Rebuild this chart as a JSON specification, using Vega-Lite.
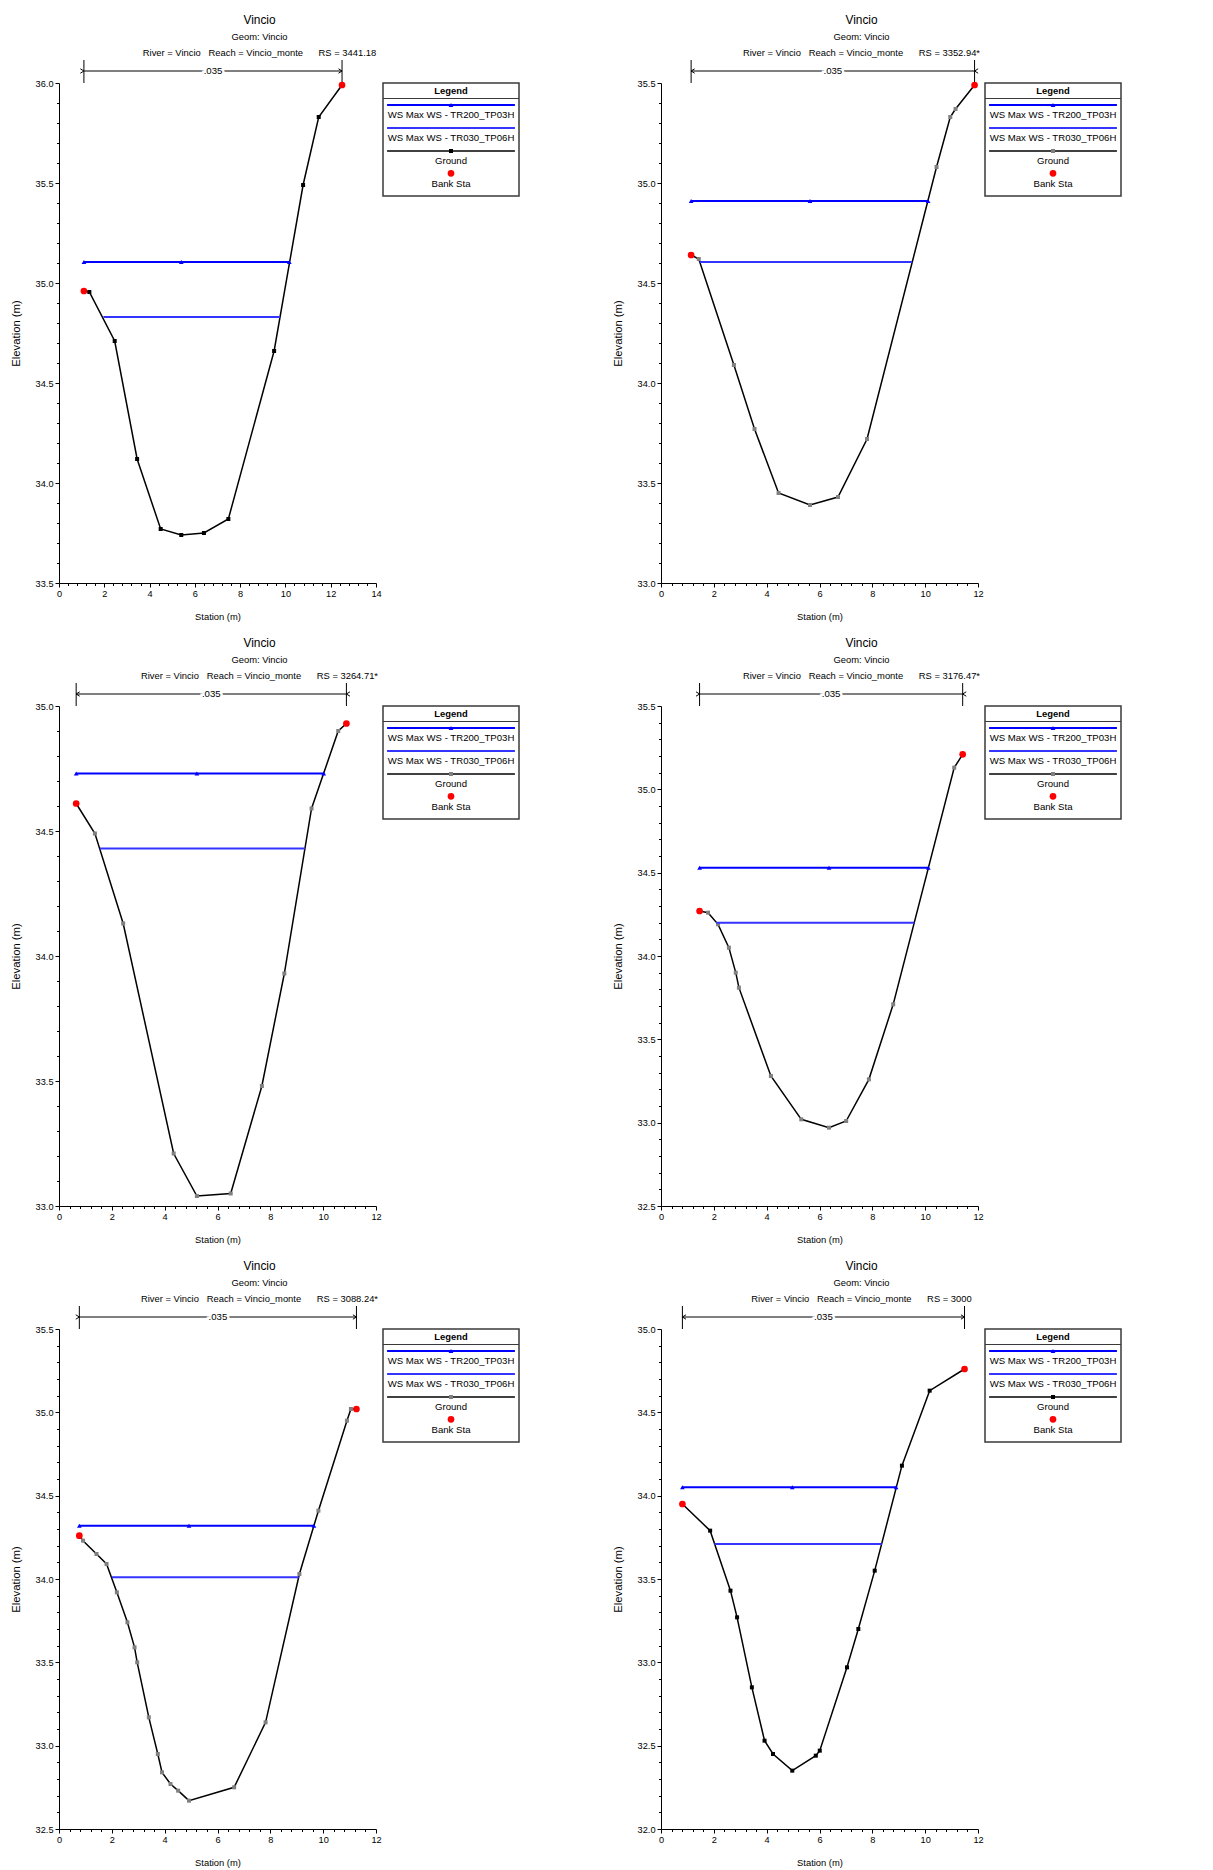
{
"$schema": "https://vega.github.io/schema/vega-lite/v6.json",
"background": "white",
"padding": {"left": 10, "top": 14, "right": 5, "bottom": 5},
"config": {
  "font": "Liberation Sans",
  "view": {"stroke": null},
  "axis": {"grid": false, "domainColor": "#000000", "domainWidth": 1, "tickColor": "#000000", "tickWidth": 1, "labelColor": "#000000", "titleColor": "#000000", "labelFont": "Liberation Sans", "labelFontSize": 9.2, "titleFont": "Liberation Sans", "titleFontSize": 9.4, "titleFontWeight": "normal", "labelPadding": 2, "labelOverlap": false, "labelFlush": false},
  "axisY": {"titleFontSize": 11.3, "titlePadding": 14},
  "axisX": {"titlePadding": 14},
  "text": {"font": "Liberation Sans"}
},
"spacing": 16,
"vconcat": [
{"hconcat": [
 {"hconcat": [
  {"width": 317, "height": 500,
   "title": {"text": "Vincio", "subtitle": ["Geom: Vincio", "River = Vincio\u00a0\u00a0\u00a0Reach = Vincio_monte\u00a0\u00a0\u00a0\u00a0\u00a0\u00a0RS = 3441.18"], "font": "Liberation Sans", "fontSize": 11.9, "fontWeight": "normal", "color": "#000000", "subtitleFont": "Liberation Sans", "subtitleFontSize": 9.4, "subtitleColor": "#000000", "subtitleLineHeight": 16, "subtitlePadding": 6, "offset": 1, "dx": 42, "anchor": "middle", "frame": "group"},
   "encoding": {
    "x": {"field": "sta", "type": "quantitative", "scale": {"domain": [0, 14], "nice": false, "zero": false}, "axis": {"title": "Station (m)", "labelOverlap": false, "values": [0,0.4,0.8,1.2,1.6,2,2.4,2.8,3.2,3.6,4,4.4,4.8,5.2,5.6,6,6.4,6.8,7.2,7.6,8,8.4,8.8,9.2,9.6,10,10.4,10.8,11.2,11.6,12,12.4,12.8,13.2,13.6,14], "labelExpr": "abs(datum.value/2-round(datum.value/2))<0.001 ? format(datum.value,'d') : ''", "tickSize": {"condition": {"test": "abs(datum.value/2-round(datum.value/2))<0.001", "value": 4}, "value": 2.5}}},
    "y": {"field": "elev", "type": "quantitative", "scale": {"domain": [33.5, 36.0], "nice": false, "zero": false}, "axis": {"title": "Elevation (m)", "labelOverlap": false, "values": [33.5,33.6,33.7,33.8,33.9,34,34.1,34.2,34.3,34.4,34.5,34.6,34.7,34.8,34.9,35,35.1,35.2,35.3,35.4,35.5,35.6,35.7,35.8,35.9,36], "labelExpr": "abs(datum.value*2-round(datum.value*2))<0.001 ? format(datum.value,'.1f') : ''", "tickSize": {"condition": {"test": "abs(datum.value*2-round(datum.value*2))<0.001", "value": 4}, "value": 2.5}}}
   },
   "layer": [
    {"data": {"values": [{"sta":1.10,"elev":34.96},{"sta":1.34,"elev":34.955},{"sta":2.46,"elev":34.71},{"sta":3.45,"elev":34.12},{"sta":4.49,"elev":33.77},{"sta":5.40,"elev":33.74},{"sta":6.40,"elev":33.75},{"sta":7.48,"elev":33.82},{"sta":9.50,"elev":34.66},{"sta":10.78,"elev":35.49},{"sta":11.47,"elev":35.83},{"sta":12.50,"elev":35.99}]},
     "layer": [
      {"mark": {"type": "line", "color": "#000000", "strokeWidth": 1.5}},
      {"mark": {"type": "point", "shape": "square", "filled": true, "color": "#000000", "size": 16, "opacity": 1}}
     ]},
    {"data": {"values": [{"profile":"WS Max WS - TR200_TP03H","sta":1.10,"elev":35.105},{"profile":"WS Max WS - TR200_TP03H","sta":5.40,"elev":35.105},{"profile":"WS Max WS - TR200_TP03H","sta":10.17,"elev":35.105},{"profile":"WS Max WS - TR030_TP06H","sta":1.96,"elev":34.83},{"profile":"WS Max WS - TR030_TP06H","sta":9.76,"elev":34.83}]},
     "layer": [
      {"mark": {"type": "line", "strokeWidth": 2}, "encoding": {"color": {"field": "profile", "type": "nominal", "scale": {"domain": ["WS Max WS - TR200_TP03H", "WS Max WS - TR030_TP06H"], "range": ["#0000ff", "#3434ff"]}, "legend": null}}},
      {"transform": [{"filter": "datum.profile == 'WS Max WS - TR200_TP03H'"}], "mark": {"type": "point", "shape": "triangle-up", "filled": true, "color": "#0000ff", "size": 22, "opacity": 1}}
     ]},
    {"data": {"values": [{"sta":1.10,"elev":34.96},{"sta":12.50,"elev":35.99}]},
     "layer": [
      {"mark": {"type": "rule", "color": "#000000", "strokeWidth": 1, "y2Offset": -23, "clip": false}, "encoding": {"y": {"datum": 36.0}, "y2": {"datum": 36.0}}},
      {"mark": {"type": "line", "color": "#000000", "strokeWidth": 1, "yOffset": -12, "clip": false}, "encoding": {"y": {"datum": 36.0}}},
      {"mark": {"type": "point", "filled": false, "color": "#000000", "strokeWidth": 1, "size": 30, "opacity": 1, "yOffset": -12, "clip": false}, "encoding": {"y": {"datum": 36.0}, "shape": {"field": "sta", "type": "ordinal", "scale": {"range": ["M0,0L1.3,-0.8M0,0L1.3,0.8", "M0,0L-1.3,-0.8M0,0L-1.3,0.8"]}, "legend": null}}},
      {"transform": [{"aggregate": [{"op": "mean", "field": "sta", "as": "sta"}, {"op": "max", "field": "elev", "as": "elev"}]}], "mark": {"type": "text", "fontSize": 9.6, "color": "#ffffff", "stroke": "#ffffff", "strokeWidth": 5, "baseline": "middle", "align": "center", "yOffset": -12, "clip": false}, "encoding": {"y": {"datum": 36.0}, "text": {"value": ".035"}}},
      {"transform": [{"aggregate": [{"op": "mean", "field": "sta", "as": "sta"}, {"op": "max", "field": "elev", "as": "elev"}]}], "mark": {"type": "text", "fontSize": 9.6, "color": "#000000", "baseline": "middle", "align": "center", "yOffset": -12, "clip": false}, "encoding": {"y": {"datum": 36.0}, "text": {"value": ".035"}}},
      {"mark": {"type": "point", "shape": "circle", "filled": true, "color": "#ff0000", "size": 45, "opacity": 1}}
     ]}
   ]},
  {"width": 136, "height": 113,
   "view": {"stroke": "#3a3a3a", "strokeWidth": 1.5},
   "title": {"text": "Legend", "font": "Liberation Sans", "fontSize": 9.4, "fontWeight": "bold", "color": "#000000", "offset": -13, "anchor": "middle", "frame": "group"},
   "data": {"values": [{"item": "WS Max WS - TR200_TP03H"}, {"item": "WS Max WS - TR030_TP06H"}, {"item": "Ground"}, {"item": "Bank Sta"}]},
   "encoding": {"y": {"field": "item", "type": "nominal", "bandPosition": 0.5, "scale": {"type": "band", "domain": ["WS Max WS - TR200_TP03H", "WS Max WS - TR030_TP06H", "Ground", "Bank Sta"], "paddingInner": 0, "paddingOuter": 0.457, "align": 1}, "axis": null}},
   "layer": [
    {"transform": [{"filter": "datum.item == 'WS Max WS - TR200_TP03H'"}], "mark": {"type": "rule", "color": "#3a3a3a", "strokeWidth": 1.2, "yOffset": -17}},
    {"transform": [{"filter": "datum.item == 'WS Max WS - TR200_TP03H'"}], "mark": {"type": "rule", "color": "#0000ff", "strokeWidth": 2, "yOffset": -10.5}, "encoding": {"x": {"datum": 0.03, "type": "quantitative", "scale": {"domain": [0, 1], "nice": false, "zero": false}, "axis": null}, "x2": {"datum": 0.97}}},
    {"transform": [{"filter": "datum.item == 'WS Max WS - TR030_TP06H'"}], "mark": {"type": "rule", "color": "#3434ff", "strokeWidth": 2, "yOffset": -10.5}, "encoding": {"x": {"datum": 0.03, "type": "quantitative", "scale": {"domain": [0, 1], "nice": false, "zero": false}, "axis": null}, "x2": {"datum": 0.97}}},
    {"transform": [{"filter": "datum.item == 'Ground'"}], "mark": {"type": "rule", "color": "#000000", "strokeWidth": 1.5, "yOffset": -10.5}, "encoding": {"x": {"datum": 0.03, "type": "quantitative", "scale": {"domain": [0, 1], "nice": false, "zero": false}, "axis": null}, "x2": {"datum": 0.97}}},
    {"transform": [{"filter": "datum.item == 'WS Max WS - TR200_TP03H'"}], "mark": {"type": "point", "shape": "triangle-up", "filled": true, "color": "#0000ff", "size": 22, "opacity": 1, "yOffset": -10.5}, "encoding": {"x": {"datum": 0.5, "type": "quantitative", "scale": {"domain": [0, 1], "nice": false, "zero": false}, "axis": null}}},
    {"transform": [{"filter": "datum.item == 'Ground'"}], "mark": {"type": "point", "shape": "square", "filled": true, "color": "#000000", "size": 16, "opacity": 1, "yOffset": -10.5}, "encoding": {"x": {"datum": 0.5, "type": "quantitative", "scale": {"domain": [0, 1], "nice": false, "zero": false}, "axis": null}}},
    {"transform": [{"filter": "datum.item == 'Bank Sta'"}], "mark": {"type": "point", "shape": "circle", "filled": true, "color": "#ff0000", "size": 45, "opacity": 1, "yOffset": -11.2}, "encoding": {"x": {"datum": 0.5, "type": "quantitative", "scale": {"domain": [0, 1], "nice": false, "zero": false}, "axis": null}}},
    {"mark": {"type": "text", "fontSize": 9.6, "color": "#000000", "baseline": "middle", "align": "center", "yOffset": -0.5}, "encoding": {"x": {"datum": 0.5, "type": "quantitative", "scale": {"domain": [0, 1], "nice": false, "zero": false}, "axis": null}, "text": {"field": "item"}}}
   ]}
 ], "spacing": -1},
 {"hconcat": [
  {"width": 317, "height": 500,
   "title": {"text": "Vincio", "subtitle": ["Geom: Vincio", "River = Vincio\u00a0\u00a0\u00a0Reach = Vincio_monte\u00a0\u00a0\u00a0\u00a0\u00a0\u00a0RS = 3352.94*"], "font": "Liberation Sans", "fontSize": 11.9, "fontWeight": "normal", "color": "#000000", "subtitleFont": "Liberation Sans", "subtitleFontSize": 9.4, "subtitleColor": "#000000", "subtitleLineHeight": 16, "subtitlePadding": 6, "offset": 1, "dx": 42, "anchor": "middle", "frame": "group"},
   "encoding": {
    "x": {"field": "sta", "type": "quantitative", "scale": {"domain": [0, 12], "nice": false, "zero": false}, "axis": {"title": "Station (m)", "labelOverlap": false, "values": [0,0.4,0.8,1.2,1.6,2,2.4,2.8,3.2,3.6,4,4.4,4.8,5.2,5.6,6,6.4,6.8,7.2,7.6,8,8.4,8.8,9.2,9.6,10,10.4,10.8,11.2,11.6,12], "labelExpr": "abs(datum.value/2-round(datum.value/2))<0.001 ? format(datum.value,'d') : ''", "tickSize": {"condition": {"test": "abs(datum.value/2-round(datum.value/2))<0.001", "value": 4}, "value": 2.5}}},
    "y": {"field": "elev", "type": "quantitative", "scale": {"domain": [33.0, 35.5], "nice": false, "zero": false}, "axis": {"title": "Elevation (m)", "labelOverlap": false, "values": [33,33.1,33.2,33.3,33.4,33.5,33.6,33.7,33.8,33.9,34,34.1,34.2,34.3,34.4,34.5,34.6,34.7,34.8,34.9,35,35.1,35.2,35.3,35.4,35.5], "labelExpr": "abs(datum.value*2-round(datum.value*2))<0.001 ? format(datum.value,'.1f') : ''", "tickSize": {"condition": {"test": "abs(datum.value*2-round(datum.value*2))<0.001", "value": 4}, "value": 2.5}}}
   },
   "layer": [
    {"data": {"values": [{"sta":1.14,"elev":34.64},{"sta":1.43,"elev":34.62},{"sta":2.76,"elev":34.09},{"sta":3.54,"elev":33.77},{"sta":4.45,"elev":33.45},{"sta":5.64,"elev":33.39},{"sta":6.70,"elev":33.43},{"sta":7.80,"elev":33.72},{"sta":10.43,"elev":35.08},{"sta":10.95,"elev":35.33},{"sta":11.15,"elev":35.37},{"sta":11.87,"elev":35.49}]},
     "layer": [
      {"mark": {"type": "line", "color": "#000000", "strokeWidth": 1.5}},
      {"mark": {"type": "point", "shape": "square", "filled": true, "color": "#808080", "size": 16, "opacity": 1}}
     ]},
    {"data": {"values": [{"profile":"WS Max WS - TR200_TP03H","sta":1.14,"elev":34.91},{"profile":"WS Max WS - TR200_TP03H","sta":5.64,"elev":34.91},{"profile":"WS Max WS - TR200_TP03H","sta":10.11,"elev":34.91},{"profile":"WS Max WS - TR030_TP06H","sta":1.47,"elev":34.605},{"profile":"WS Max WS - TR030_TP06H","sta":9.51,"elev":34.605}]},
     "layer": [
      {"mark": {"type": "line", "strokeWidth": 2}, "encoding": {"color": {"field": "profile", "type": "nominal", "scale": {"domain": ["WS Max WS - TR200_TP03H", "WS Max WS - TR030_TP06H"], "range": ["#0000ff", "#3434ff"]}, "legend": null}}},
      {"transform": [{"filter": "datum.profile == 'WS Max WS - TR200_TP03H'"}], "mark": {"type": "point", "shape": "triangle-up", "filled": true, "color": "#0000ff", "size": 22, "opacity": 1}}
     ]},
    {"data": {"values": [{"sta":1.14,"elev":34.64},{"sta":11.87,"elev":35.49}]},
     "layer": [
      {"mark": {"type": "rule", "color": "#000000", "strokeWidth": 1, "y2Offset": -23, "clip": false}, "encoding": {"y": {"datum": 35.5}, "y2": {"datum": 35.5}}},
      {"mark": {"type": "line", "color": "#000000", "strokeWidth": 1, "yOffset": -12, "clip": false}, "encoding": {"y": {"datum": 35.5}}},
      {"mark": {"type": "point", "filled": false, "color": "#000000", "strokeWidth": 1, "size": 30, "opacity": 1, "yOffset": -12, "clip": false}, "encoding": {"y": {"datum": 35.5}, "shape": {"field": "sta", "type": "ordinal", "scale": {"range": ["M0,0L1.3,-0.8M0,0L1.3,0.8", "M0,0L-1.3,-0.8M0,0L-1.3,0.8"]}, "legend": null}}},
      {"transform": [{"aggregate": [{"op": "mean", "field": "sta", "as": "sta"}, {"op": "max", "field": "elev", "as": "elev"}]}], "mark": {"type": "text", "fontSize": 9.6, "color": "#ffffff", "stroke": "#ffffff", "strokeWidth": 5, "baseline": "middle", "align": "center", "yOffset": -12, "clip": false}, "encoding": {"y": {"datum": 35.5}, "text": {"value": ".035"}}},
      {"transform": [{"aggregate": [{"op": "mean", "field": "sta", "as": "sta"}, {"op": "max", "field": "elev", "as": "elev"}]}], "mark": {"type": "text", "fontSize": 9.6, "color": "#000000", "baseline": "middle", "align": "center", "yOffset": -12, "clip": false}, "encoding": {"y": {"datum": 35.5}, "text": {"value": ".035"}}},
      {"mark": {"type": "point", "shape": "circle", "filled": true, "color": "#ff0000", "size": 45, "opacity": 1}}
     ]}
   ]},
  {"width": 136, "height": 113,
   "view": {"stroke": "#3a3a3a", "strokeWidth": 1.5},
   "title": {"text": "Legend", "font": "Liberation Sans", "fontSize": 9.4, "fontWeight": "bold", "color": "#000000", "offset": -13, "anchor": "middle", "frame": "group"},
   "data": {"values": [{"item": "WS Max WS - TR200_TP03H"}, {"item": "WS Max WS - TR030_TP06H"}, {"item": "Ground"}, {"item": "Bank Sta"}]},
   "encoding": {"y": {"field": "item", "type": "nominal", "bandPosition": 0.5, "scale": {"type": "band", "domain": ["WS Max WS - TR200_TP03H", "WS Max WS - TR030_TP06H", "Ground", "Bank Sta"], "paddingInner": 0, "paddingOuter": 0.457, "align": 1}, "axis": null}},
   "layer": [
    {"transform": [{"filter": "datum.item == 'WS Max WS - TR200_TP03H'"}], "mark": {"type": "rule", "color": "#3a3a3a", "strokeWidth": 1.2, "yOffset": -17}},
    {"transform": [{"filter": "datum.item == 'WS Max WS - TR200_TP03H'"}], "mark": {"type": "rule", "color": "#0000ff", "strokeWidth": 2, "yOffset": -10.5}, "encoding": {"x": {"datum": 0.03, "type": "quantitative", "scale": {"domain": [0, 1], "nice": false, "zero": false}, "axis": null}, "x2": {"datum": 0.97}}},
    {"transform": [{"filter": "datum.item == 'WS Max WS - TR030_TP06H'"}], "mark": {"type": "rule", "color": "#3434ff", "strokeWidth": 2, "yOffset": -10.5}, "encoding": {"x": {"datum": 0.03, "type": "quantitative", "scale": {"domain": [0, 1], "nice": false, "zero": false}, "axis": null}, "x2": {"datum": 0.97}}},
    {"transform": [{"filter": "datum.item == 'Ground'"}], "mark": {"type": "rule", "color": "#000000", "strokeWidth": 1.5, "yOffset": -10.5}, "encoding": {"x": {"datum": 0.03, "type": "quantitative", "scale": {"domain": [0, 1], "nice": false, "zero": false}, "axis": null}, "x2": {"datum": 0.97}}},
    {"transform": [{"filter": "datum.item == 'WS Max WS - TR200_TP03H'"}], "mark": {"type": "point", "shape": "triangle-up", "filled": true, "color": "#0000ff", "size": 22, "opacity": 1, "yOffset": -10.5}, "encoding": {"x": {"datum": 0.5, "type": "quantitative", "scale": {"domain": [0, 1], "nice": false, "zero": false}, "axis": null}}},
    {"transform": [{"filter": "datum.item == 'Ground'"}], "mark": {"type": "point", "shape": "square", "filled": true, "color": "#808080", "size": 16, "opacity": 1, "yOffset": -10.5}, "encoding": {"x": {"datum": 0.5, "type": "quantitative", "scale": {"domain": [0, 1], "nice": false, "zero": false}, "axis": null}}},
    {"transform": [{"filter": "datum.item == 'Bank Sta'"}], "mark": {"type": "point", "shape": "circle", "filled": true, "color": "#ff0000", "size": 45, "opacity": 1, "yOffset": -11.2}, "encoding": {"x": {"datum": 0.5, "type": "quantitative", "scale": {"domain": [0, 1], "nice": false, "zero": false}, "axis": null}}},
    {"mark": {"type": "text", "fontSize": 9.6, "color": "#000000", "baseline": "middle", "align": "center", "yOffset": -0.5}, "encoding": {"x": {"datum": 0.5, "type": "quantitative", "scale": {"domain": [0, 1], "nice": false, "zero": false}, "axis": null}, "text": {"field": "item"}}}
   ]}
 ], "spacing": -1}
], "spacing": 91},
{"hconcat": [
 {"hconcat": [
  {"width": 317, "height": 500,
   "title": {"text": "Vincio", "subtitle": ["Geom: Vincio", "River = Vincio\u00a0\u00a0\u00a0Reach = Vincio_monte\u00a0\u00a0\u00a0\u00a0\u00a0\u00a0RS = 3264.71*"], "font": "Liberation Sans", "fontSize": 11.9, "fontWeight": "normal", "color": "#000000", "subtitleFont": "Liberation Sans", "subtitleFontSize": 9.4, "subtitleColor": "#000000", "subtitleLineHeight": 16, "subtitlePadding": 6, "offset": 1, "dx": 42, "anchor": "middle", "frame": "group"},
   "encoding": {
    "x": {"field": "sta", "type": "quantitative", "scale": {"domain": [0, 12], "nice": false, "zero": false}, "axis": {"title": "Station (m)", "labelOverlap": false, "values": [0,0.4,0.8,1.2,1.6,2,2.4,2.8,3.2,3.6,4,4.4,4.8,5.2,5.6,6,6.4,6.8,7.2,7.6,8,8.4,8.8,9.2,9.6,10,10.4,10.8,11.2,11.6,12], "labelExpr": "abs(datum.value/2-round(datum.value/2))<0.001 ? format(datum.value,'d') : ''", "tickSize": {"condition": {"test": "abs(datum.value/2-round(datum.value/2))<0.001", "value": 4}, "value": 2.5}}},
    "y": {"field": "elev", "type": "quantitative", "scale": {"domain": [33.0, 35.0], "nice": false, "zero": false}, "axis": {"title": "Elevation (m)", "labelOverlap": false, "values": [33,33.1,33.2,33.3,33.4,33.5,33.6,33.7,33.8,33.9,34,34.1,34.2,34.3,34.4,34.5,34.6,34.7,34.8,34.9,35], "labelExpr": "abs(datum.value*2-round(datum.value*2))<0.001 ? format(datum.value,'.1f') : ''", "tickSize": {"condition": {"test": "abs(datum.value*2-round(datum.value*2))<0.001", "value": 4}, "value": 2.5}}}
   },
   "layer": [
    {"data": {"values": [{"sta":0.65,"elev":34.61},{"sta":1.36,"elev":34.49},{"sta":2.43,"elev":34.13},{"sta":4.34,"elev":33.21},{"sta":5.22,"elev":33.04},{"sta":6.50,"elev":33.05},{"sta":7.68,"elev":33.48},{"sta":8.53,"elev":33.93},{"sta":9.56,"elev":34.59},{"sta":10.57,"elev":34.90},{"sta":10.88,"elev":34.93}]},
     "layer": [
      {"mark": {"type": "line", "color": "#000000", "strokeWidth": 1.5}},
      {"mark": {"type": "point", "shape": "square", "filled": true, "color": "#808080", "size": 16, "opacity": 1}}
     ]},
    {"data": {"values": [{"profile":"WS Max WS - TR200_TP03H","sta":0.65,"elev":34.73},{"profile":"WS Max WS - TR200_TP03H","sta":5.22,"elev":34.73},{"profile":"WS Max WS - TR200_TP03H","sta":10.02,"elev":34.73},{"profile":"WS Max WS - TR030_TP06H","sta":1.55,"elev":34.43},{"profile":"WS Max WS - TR030_TP06H","sta":9.31,"elev":34.43}]},
     "layer": [
      {"mark": {"type": "line", "strokeWidth": 2}, "encoding": {"color": {"field": "profile", "type": "nominal", "scale": {"domain": ["WS Max WS - TR200_TP03H", "WS Max WS - TR030_TP06H"], "range": ["#0000ff", "#3434ff"]}, "legend": null}}},
      {"transform": [{"filter": "datum.profile == 'WS Max WS - TR200_TP03H'"}], "mark": {"type": "point", "shape": "triangle-up", "filled": true, "color": "#0000ff", "size": 22, "opacity": 1}}
     ]},
    {"data": {"values": [{"sta":0.65,"elev":34.61},{"sta":10.88,"elev":34.93}]},
     "layer": [
      {"mark": {"type": "rule", "color": "#000000", "strokeWidth": 1, "y2Offset": -23, "clip": false}, "encoding": {"y": {"datum": 35.0}, "y2": {"datum": 35.0}}},
      {"mark": {"type": "line", "color": "#000000", "strokeWidth": 1, "yOffset": -12, "clip": false}, "encoding": {"y": {"datum": 35.0}}},
      {"mark": {"type": "point", "filled": false, "color": "#000000", "strokeWidth": 1, "size": 30, "opacity": 1, "yOffset": -12, "clip": false}, "encoding": {"y": {"datum": 35.0}, "shape": {"field": "sta", "type": "ordinal", "scale": {"range": ["M0,0L1.3,-0.8M0,0L1.3,0.8", "M0,0L-1.3,-0.8M0,0L-1.3,0.8"]}, "legend": null}}},
      {"transform": [{"aggregate": [{"op": "mean", "field": "sta", "as": "sta"}, {"op": "max", "field": "elev", "as": "elev"}]}], "mark": {"type": "text", "fontSize": 9.6, "color": "#ffffff", "stroke": "#ffffff", "strokeWidth": 5, "baseline": "middle", "align": "center", "yOffset": -12, "clip": false}, "encoding": {"y": {"datum": 35.0}, "text": {"value": ".035"}}},
      {"transform": [{"aggregate": [{"op": "mean", "field": "sta", "as": "sta"}, {"op": "max", "field": "elev", "as": "elev"}]}], "mark": {"type": "text", "fontSize": 9.6, "color": "#000000", "baseline": "middle", "align": "center", "yOffset": -12, "clip": false}, "encoding": {"y": {"datum": 35.0}, "text": {"value": ".035"}}},
      {"mark": {"type": "point", "shape": "circle", "filled": true, "color": "#ff0000", "size": 45, "opacity": 1}}
     ]}
   ]},
  {"width": 136, "height": 113,
   "view": {"stroke": "#3a3a3a", "strokeWidth": 1.5},
   "title": {"text": "Legend", "font": "Liberation Sans", "fontSize": 9.4, "fontWeight": "bold", "color": "#000000", "offset": -13, "anchor": "middle", "frame": "group"},
   "data": {"values": [{"item": "WS Max WS - TR200_TP03H"}, {"item": "WS Max WS - TR030_TP06H"}, {"item": "Ground"}, {"item": "Bank Sta"}]},
   "encoding": {"y": {"field": "item", "type": "nominal", "bandPosition": 0.5, "scale": {"type": "band", "domain": ["WS Max WS - TR200_TP03H", "WS Max WS - TR030_TP06H", "Ground", "Bank Sta"], "paddingInner": 0, "paddingOuter": 0.457, "align": 1}, "axis": null}},
   "layer": [
    {"transform": [{"filter": "datum.item == 'WS Max WS - TR200_TP03H'"}], "mark": {"type": "rule", "color": "#3a3a3a", "strokeWidth": 1.2, "yOffset": -17}},
    {"transform": [{"filter": "datum.item == 'WS Max WS - TR200_TP03H'"}], "mark": {"type": "rule", "color": "#0000ff", "strokeWidth": 2, "yOffset": -10.5}, "encoding": {"x": {"datum": 0.03, "type": "quantitative", "scale": {"domain": [0, 1], "nice": false, "zero": false}, "axis": null}, "x2": {"datum": 0.97}}},
    {"transform": [{"filter": "datum.item == 'WS Max WS - TR030_TP06H'"}], "mark": {"type": "rule", "color": "#3434ff", "strokeWidth": 2, "yOffset": -10.5}, "encoding": {"x": {"datum": 0.03, "type": "quantitative", "scale": {"domain": [0, 1], "nice": false, "zero": false}, "axis": null}, "x2": {"datum": 0.97}}},
    {"transform": [{"filter": "datum.item == 'Ground'"}], "mark": {"type": "rule", "color": "#000000", "strokeWidth": 1.5, "yOffset": -10.5}, "encoding": {"x": {"datum": 0.03, "type": "quantitative", "scale": {"domain": [0, 1], "nice": false, "zero": false}, "axis": null}, "x2": {"datum": 0.97}}},
    {"transform": [{"filter": "datum.item == 'WS Max WS - TR200_TP03H'"}], "mark": {"type": "point", "shape": "triangle-up", "filled": true, "color": "#0000ff", "size": 22, "opacity": 1, "yOffset": -10.5}, "encoding": {"x": {"datum": 0.5, "type": "quantitative", "scale": {"domain": [0, 1], "nice": false, "zero": false}, "axis": null}}},
    {"transform": [{"filter": "datum.item == 'Ground'"}], "mark": {"type": "point", "shape": "square", "filled": true, "color": "#808080", "size": 16, "opacity": 1, "yOffset": -10.5}, "encoding": {"x": {"datum": 0.5, "type": "quantitative", "scale": {"domain": [0, 1], "nice": false, "zero": false}, "axis": null}}},
    {"transform": [{"filter": "datum.item == 'Bank Sta'"}], "mark": {"type": "point", "shape": "circle", "filled": true, "color": "#ff0000", "size": 45, "opacity": 1, "yOffset": -11.2}, "encoding": {"x": {"datum": 0.5, "type": "quantitative", "scale": {"domain": [0, 1], "nice": false, "zero": false}, "axis": null}}},
    {"mark": {"type": "text", "fontSize": 9.6, "color": "#000000", "baseline": "middle", "align": "center", "yOffset": -0.5}, "encoding": {"x": {"datum": 0.5, "type": "quantitative", "scale": {"domain": [0, 1], "nice": false, "zero": false}, "axis": null}, "text": {"field": "item"}}}
   ]}
 ], "spacing": -1},
 {"hconcat": [
  {"width": 317, "height": 500,
   "title": {"text": "Vincio", "subtitle": ["Geom: Vincio", "River = Vincio\u00a0\u00a0\u00a0Reach = Vincio_monte\u00a0\u00a0\u00a0\u00a0\u00a0\u00a0RS = 3176.47*"], "font": "Liberation Sans", "fontSize": 11.9, "fontWeight": "normal", "color": "#000000", "subtitleFont": "Liberation Sans", "subtitleFontSize": 9.4, "subtitleColor": "#000000", "subtitleLineHeight": 16, "subtitlePadding": 6, "offset": 1, "dx": 42, "anchor": "middle", "frame": "group"},
   "encoding": {
    "x": {"field": "sta", "type": "quantitative", "scale": {"domain": [0, 12], "nice": false, "zero": false}, "axis": {"title": "Station (m)", "labelOverlap": false, "values": [0,0.4,0.8,1.2,1.6,2,2.4,2.8,3.2,3.6,4,4.4,4.8,5.2,5.6,6,6.4,6.8,7.2,7.6,8,8.4,8.8,9.2,9.6,10,10.4,10.8,11.2,11.6,12], "labelExpr": "abs(datum.value/2-round(datum.value/2))<0.001 ? format(datum.value,'d') : ''", "tickSize": {"condition": {"test": "abs(datum.value/2-round(datum.value/2))<0.001", "value": 4}, "value": 2.5}}},
    "y": {"field": "elev", "type": "quantitative", "scale": {"domain": [32.5, 35.5], "nice": false, "zero": false}, "axis": {"title": "Elevation (m)", "labelOverlap": false, "values": [32.5,32.6,32.7,32.8,32.9,33,33.1,33.2,33.3,33.4,33.5,33.6,33.7,33.8,33.9,34,34.1,34.2,34.3,34.4,34.5,34.6,34.7,34.8,34.9,35,35.1,35.2,35.3,35.4,35.5], "labelExpr": "abs(datum.value*2-round(datum.value*2))<0.001 ? format(datum.value,'.1f') : ''", "tickSize": {"condition": {"test": "abs(datum.value*2-round(datum.value*2))<0.001", "value": 4}, "value": 2.5}}}
   },
   "layer": [
    {"data": {"values": [{"sta":1.46,"elev":34.27},{"sta":1.78,"elev":34.26},{"sta":2.16,"elev":34.19},{"sta":2.57,"elev":34.05},{"sta":2.83,"elev":33.90},{"sta":2.95,"elev":33.81},{"sta":4.16,"elev":33.28},{"sta":5.31,"elev":33.02},{"sta":6.36,"elev":32.97},{"sta":7.01,"elev":33.01},{"sta":7.87,"elev":33.26},{"sta":8.79,"elev":33.71},{"sta":11.10,"elev":35.13},{"sta":11.42,"elev":35.21}]},
     "layer": [
      {"mark": {"type": "line", "color": "#000000", "strokeWidth": 1.5}},
      {"mark": {"type": "point", "shape": "square", "filled": true, "color": "#808080", "size": 16, "opacity": 1}}
     ]},
    {"data": {"values": [{"profile":"WS Max WS - TR200_TP03H","sta":1.46,"elev":34.53},{"profile":"WS Max WS - TR200_TP03H","sta":6.36,"elev":34.53},{"profile":"WS Max WS - TR200_TP03H","sta":10.12,"elev":34.53},{"profile":"WS Max WS - TR030_TP06H","sta":2.09,"elev":34.20},{"profile":"WS Max WS - TR030_TP06H","sta":9.59,"elev":34.20}]},
     "layer": [
      {"mark": {"type": "line", "strokeWidth": 2}, "encoding": {"color": {"field": "profile", "type": "nominal", "scale": {"domain": ["WS Max WS - TR200_TP03H", "WS Max WS - TR030_TP06H"], "range": ["#0000ff", "#3434ff"]}, "legend": null}}},
      {"transform": [{"filter": "datum.profile == 'WS Max WS - TR200_TP03H'"}], "mark": {"type": "point", "shape": "triangle-up", "filled": true, "color": "#0000ff", "size": 22, "opacity": 1}}
     ]},
    {"data": {"values": [{"sta":1.46,"elev":34.27},{"sta":11.42,"elev":35.21}]},
     "layer": [
      {"mark": {"type": "rule", "color": "#000000", "strokeWidth": 1, "y2Offset": -23, "clip": false}, "encoding": {"y": {"datum": 35.5}, "y2": {"datum": 35.5}}},
      {"mark": {"type": "line", "color": "#000000", "strokeWidth": 1, "yOffset": -12, "clip": false}, "encoding": {"y": {"datum": 35.5}}},
      {"mark": {"type": "point", "filled": false, "color": "#000000", "strokeWidth": 1, "size": 30, "opacity": 1, "yOffset": -12, "clip": false}, "encoding": {"y": {"datum": 35.5}, "shape": {"field": "sta", "type": "ordinal", "scale": {"range": ["M0,0L1.3,-0.8M0,0L1.3,0.8", "M0,0L-1.3,-0.8M0,0L-1.3,0.8"]}, "legend": null}}},
      {"transform": [{"aggregate": [{"op": "mean", "field": "sta", "as": "sta"}, {"op": "max", "field": "elev", "as": "elev"}]}], "mark": {"type": "text", "fontSize": 9.6, "color": "#ffffff", "stroke": "#ffffff", "strokeWidth": 5, "baseline": "middle", "align": "center", "yOffset": -12, "clip": false}, "encoding": {"y": {"datum": 35.5}, "text": {"value": ".035"}}},
      {"transform": [{"aggregate": [{"op": "mean", "field": "sta", "as": "sta"}, {"op": "max", "field": "elev", "as": "elev"}]}], "mark": {"type": "text", "fontSize": 9.6, "color": "#000000", "baseline": "middle", "align": "center", "yOffset": -12, "clip": false}, "encoding": {"y": {"datum": 35.5}, "text": {"value": ".035"}}},
      {"mark": {"type": "point", "shape": "circle", "filled": true, "color": "#ff0000", "size": 45, "opacity": 1}}
     ]}
   ]},
  {"width": 136, "height": 113,
   "view": {"stroke": "#3a3a3a", "strokeWidth": 1.5},
   "title": {"text": "Legend", "font": "Liberation Sans", "fontSize": 9.4, "fontWeight": "bold", "color": "#000000", "offset": -13, "anchor": "middle", "frame": "group"},
   "data": {"values": [{"item": "WS Max WS - TR200_TP03H"}, {"item": "WS Max WS - TR030_TP06H"}, {"item": "Ground"}, {"item": "Bank Sta"}]},
   "encoding": {"y": {"field": "item", "type": "nominal", "bandPosition": 0.5, "scale": {"type": "band", "domain": ["WS Max WS - TR200_TP03H", "WS Max WS - TR030_TP06H", "Ground", "Bank Sta"], "paddingInner": 0, "paddingOuter": 0.457, "align": 1}, "axis": null}},
   "layer": [
    {"transform": [{"filter": "datum.item == 'WS Max WS - TR200_TP03H'"}], "mark": {"type": "rule", "color": "#3a3a3a", "strokeWidth": 1.2, "yOffset": -17}},
    {"transform": [{"filter": "datum.item == 'WS Max WS - TR200_TP03H'"}], "mark": {"type": "rule", "color": "#0000ff", "strokeWidth": 2, "yOffset": -10.5}, "encoding": {"x": {"datum": 0.03, "type": "quantitative", "scale": {"domain": [0, 1], "nice": false, "zero": false}, "axis": null}, "x2": {"datum": 0.97}}},
    {"transform": [{"filter": "datum.item == 'WS Max WS - TR030_TP06H'"}], "mark": {"type": "rule", "color": "#3434ff", "strokeWidth": 2, "yOffset": -10.5}, "encoding": {"x": {"datum": 0.03, "type": "quantitative", "scale": {"domain": [0, 1], "nice": false, "zero": false}, "axis": null}, "x2": {"datum": 0.97}}},
    {"transform": [{"filter": "datum.item == 'Ground'"}], "mark": {"type": "rule", "color": "#000000", "strokeWidth": 1.5, "yOffset": -10.5}, "encoding": {"x": {"datum": 0.03, "type": "quantitative", "scale": {"domain": [0, 1], "nice": false, "zero": false}, "axis": null}, "x2": {"datum": 0.97}}},
    {"transform": [{"filter": "datum.item == 'WS Max WS - TR200_TP03H'"}], "mark": {"type": "point", "shape": "triangle-up", "filled": true, "color": "#0000ff", "size": 22, "opacity": 1, "yOffset": -10.5}, "encoding": {"x": {"datum": 0.5, "type": "quantitative", "scale": {"domain": [0, 1], "nice": false, "zero": false}, "axis": null}}},
    {"transform": [{"filter": "datum.item == 'Ground'"}], "mark": {"type": "point", "shape": "square", "filled": true, "color": "#808080", "size": 16, "opacity": 1, "yOffset": -10.5}, "encoding": {"x": {"datum": 0.5, "type": "quantitative", "scale": {"domain": [0, 1], "nice": false, "zero": false}, "axis": null}}},
    {"transform": [{"filter": "datum.item == 'Bank Sta'"}], "mark": {"type": "point", "shape": "circle", "filled": true, "color": "#ff0000", "size": 45, "opacity": 1, "yOffset": -11.2}, "encoding": {"x": {"datum": 0.5, "type": "quantitative", "scale": {"domain": [0, 1], "nice": false, "zero": false}, "axis": null}}},
    {"mark": {"type": "text", "fontSize": 9.6, "color": "#000000", "baseline": "middle", "align": "center", "yOffset": -0.5}, "encoding": {"x": {"datum": 0.5, "type": "quantitative", "scale": {"domain": [0, 1], "nice": false, "zero": false}, "axis": null}, "text": {"field": "item"}}}
   ]}
 ], "spacing": -1}
], "spacing": 91},
{"hconcat": [
 {"hconcat": [
  {"width": 317, "height": 500,
   "title": {"text": "Vincio", "subtitle": ["Geom: Vincio", "River = Vincio\u00a0\u00a0\u00a0Reach = Vincio_monte\u00a0\u00a0\u00a0\u00a0\u00a0\u00a0RS = 3088.24*"], "font": "Liberation Sans", "fontSize": 11.9, "fontWeight": "normal", "color": "#000000", "subtitleFont": "Liberation Sans", "subtitleFontSize": 9.4, "subtitleColor": "#000000", "subtitleLineHeight": 16, "subtitlePadding": 6, "offset": 1, "dx": 42, "anchor": "middle", "frame": "group"},
   "encoding": {
    "x": {"field": "sta", "type": "quantitative", "scale": {"domain": [0, 12], "nice": false, "zero": false}, "axis": {"title": "Station (m)", "labelOverlap": false, "values": [0,0.4,0.8,1.2,1.6,2,2.4,2.8,3.2,3.6,4,4.4,4.8,5.2,5.6,6,6.4,6.8,7.2,7.6,8,8.4,8.8,9.2,9.6,10,10.4,10.8,11.2,11.6,12], "labelExpr": "abs(datum.value/2-round(datum.value/2))<0.001 ? format(datum.value,'d') : ''", "tickSize": {"condition": {"test": "abs(datum.value/2-round(datum.value/2))<0.001", "value": 4}, "value": 2.5}}},
    "y": {"field": "elev", "type": "quantitative", "scale": {"domain": [32.5, 35.5], "nice": false, "zero": false}, "axis": {"title": "Elevation (m)", "labelOverlap": false, "values": [32.5,32.6,32.7,32.8,32.9,33,33.1,33.2,33.3,33.4,33.5,33.6,33.7,33.8,33.9,34,34.1,34.2,34.3,34.4,34.5,34.6,34.7,34.8,34.9,35,35.1,35.2,35.3,35.4,35.5], "labelExpr": "abs(datum.value*2-round(datum.value*2))<0.001 ? format(datum.value,'.1f') : ''", "tickSize": {"condition": {"test": "abs(datum.value*2-round(datum.value*2))<0.001", "value": 4}, "value": 2.5}}}
   },
   "layer": [
    {"data": {"values": [{"sta":0.77,"elev":34.26},{"sta":0.91,"elev":34.23},{"sta":1.42,"elev":34.15},{"sta":1.80,"elev":34.09},{"sta":2.19,"elev":33.92},{"sta":2.59,"elev":33.74},{"sta":2.86,"elev":33.59},{"sta":2.96,"elev":33.50},{"sta":3.40,"elev":33.17},{"sta":3.74,"elev":32.95},{"sta":3.90,"elev":32.84},{"sta":4.22,"elev":32.77},{"sta":4.51,"elev":32.73},{"sta":4.92,"elev":32.67},{"sta":6.63,"elev":32.75},{"sta":7.82,"elev":33.14},{"sta":9.10,"elev":34.03},{"sta":9.82,"elev":34.41},{"sta":10.90,"elev":34.95},{"sta":11.05,"elev":35.02},{"sta":11.26,"elev":35.02}]},
     "layer": [
      {"mark": {"type": "line", "color": "#000000", "strokeWidth": 1.5}},
      {"mark": {"type": "point", "shape": "square", "filled": true, "color": "#808080", "size": 16, "opacity": 1}}
     ]},
    {"data": {"values": [{"profile":"WS Max WS - TR200_TP03H","sta":0.77,"elev":34.32},{"profile":"WS Max WS - TR200_TP03H","sta":4.92,"elev":34.32},{"profile":"WS Max WS - TR200_TP03H","sta":9.65,"elev":34.32},{"profile":"WS Max WS - TR030_TP06H","sta":2.0,"elev":34.01},{"profile":"WS Max WS - TR030_TP06H","sta":9.08,"elev":34.01}]},
     "layer": [
      {"mark": {"type": "line", "strokeWidth": 2}, "encoding": {"color": {"field": "profile", "type": "nominal", "scale": {"domain": ["WS Max WS - TR200_TP03H", "WS Max WS - TR030_TP06H"], "range": ["#0000ff", "#3434ff"]}, "legend": null}}},
      {"transform": [{"filter": "datum.profile == 'WS Max WS - TR200_TP03H'"}], "mark": {"type": "point", "shape": "triangle-up", "filled": true, "color": "#0000ff", "size": 22, "opacity": 1}}
     ]},
    {"data": {"values": [{"sta":0.77,"elev":34.26},{"sta":11.26,"elev":35.02}]},
     "layer": [
      {"mark": {"type": "rule", "color": "#000000", "strokeWidth": 1, "y2Offset": -23, "clip": false}, "encoding": {"y": {"datum": 35.5}, "y2": {"datum": 35.5}}},
      {"mark": {"type": "line", "color": "#000000", "strokeWidth": 1, "yOffset": -12, "clip": false}, "encoding": {"y": {"datum": 35.5}}},
      {"mark": {"type": "point", "filled": false, "color": "#000000", "strokeWidth": 1, "size": 30, "opacity": 1, "yOffset": -12, "clip": false}, "encoding": {"y": {"datum": 35.5}, "shape": {"field": "sta", "type": "ordinal", "scale": {"range": ["M0,0L1.3,-0.8M0,0L1.3,0.8", "M0,0L-1.3,-0.8M0,0L-1.3,0.8"]}, "legend": null}}},
      {"transform": [{"aggregate": [{"op": "mean", "field": "sta", "as": "sta"}, {"op": "max", "field": "elev", "as": "elev"}]}], "mark": {"type": "text", "fontSize": 9.6, "color": "#ffffff", "stroke": "#ffffff", "strokeWidth": 5, "baseline": "middle", "align": "center", "yOffset": -12, "clip": false}, "encoding": {"y": {"datum": 35.5}, "text": {"value": ".035"}}},
      {"transform": [{"aggregate": [{"op": "mean", "field": "sta", "as": "sta"}, {"op": "max", "field": "elev", "as": "elev"}]}], "mark": {"type": "text", "fontSize": 9.6, "color": "#000000", "baseline": "middle", "align": "center", "yOffset": -12, "clip": false}, "encoding": {"y": {"datum": 35.5}, "text": {"value": ".035"}}},
      {"mark": {"type": "point", "shape": "circle", "filled": true, "color": "#ff0000", "size": 45, "opacity": 1}}
     ]}
   ]},
  {"width": 136, "height": 113,
   "view": {"stroke": "#3a3a3a", "strokeWidth": 1.5},
   "title": {"text": "Legend", "font": "Liberation Sans", "fontSize": 9.4, "fontWeight": "bold", "color": "#000000", "offset": -13, "anchor": "middle", "frame": "group"},
   "data": {"values": [{"item": "WS Max WS - TR200_TP03H"}, {"item": "WS Max WS - TR030_TP06H"}, {"item": "Ground"}, {"item": "Bank Sta"}]},
   "encoding": {"y": {"field": "item", "type": "nominal", "bandPosition": 0.5, "scale": {"type": "band", "domain": ["WS Max WS - TR200_TP03H", "WS Max WS - TR030_TP06H", "Ground", "Bank Sta"], "paddingInner": 0, "paddingOuter": 0.457, "align": 1}, "axis": null}},
   "layer": [
    {"transform": [{"filter": "datum.item == 'WS Max WS - TR200_TP03H'"}], "mark": {"type": "rule", "color": "#3a3a3a", "strokeWidth": 1.2, "yOffset": -17}},
    {"transform": [{"filter": "datum.item == 'WS Max WS - TR200_TP03H'"}], "mark": {"type": "rule", "color": "#0000ff", "strokeWidth": 2, "yOffset": -10.5}, "encoding": {"x": {"datum": 0.03, "type": "quantitative", "scale": {"domain": [0, 1], "nice": false, "zero": false}, "axis": null}, "x2": {"datum": 0.97}}},
    {"transform": [{"filter": "datum.item == 'WS Max WS - TR030_TP06H'"}], "mark": {"type": "rule", "color": "#3434ff", "strokeWidth": 2, "yOffset": -10.5}, "encoding": {"x": {"datum": 0.03, "type": "quantitative", "scale": {"domain": [0, 1], "nice": false, "zero": false}, "axis": null}, "x2": {"datum": 0.97}}},
    {"transform": [{"filter": "datum.item == 'Ground'"}], "mark": {"type": "rule", "color": "#000000", "strokeWidth": 1.5, "yOffset": -10.5}, "encoding": {"x": {"datum": 0.03, "type": "quantitative", "scale": {"domain": [0, 1], "nice": false, "zero": false}, "axis": null}, "x2": {"datum": 0.97}}},
    {"transform": [{"filter": "datum.item == 'WS Max WS - TR200_TP03H'"}], "mark": {"type": "point", "shape": "triangle-up", "filled": true, "color": "#0000ff", "size": 22, "opacity": 1, "yOffset": -10.5}, "encoding": {"x": {"datum": 0.5, "type": "quantitative", "scale": {"domain": [0, 1], "nice": false, "zero": false}, "axis": null}}},
    {"transform": [{"filter": "datum.item == 'Ground'"}], "mark": {"type": "point", "shape": "square", "filled": true, "color": "#808080", "size": 16, "opacity": 1, "yOffset": -10.5}, "encoding": {"x": {"datum": 0.5, "type": "quantitative", "scale": {"domain": [0, 1], "nice": false, "zero": false}, "axis": null}}},
    {"transform": [{"filter": "datum.item == 'Bank Sta'"}], "mark": {"type": "point", "shape": "circle", "filled": true, "color": "#ff0000", "size": 45, "opacity": 1, "yOffset": -11.2}, "encoding": {"x": {"datum": 0.5, "type": "quantitative", "scale": {"domain": [0, 1], "nice": false, "zero": false}, "axis": null}}},
    {"mark": {"type": "text", "fontSize": 9.6, "color": "#000000", "baseline": "middle", "align": "center", "yOffset": -0.5}, "encoding": {"x": {"datum": 0.5, "type": "quantitative", "scale": {"domain": [0, 1], "nice": false, "zero": false}, "axis": null}, "text": {"field": "item"}}}
   ]}
 ], "spacing": -1},
 {"hconcat": [
  {"width": 317, "height": 500,
   "title": {"text": "Vincio", "subtitle": ["Geom: Vincio", "River = Vincio\u00a0\u00a0\u00a0Reach = Vincio_monte\u00a0\u00a0\u00a0\u00a0\u00a0\u00a0RS = 3000"], "font": "Liberation Sans", "fontSize": 11.9, "fontWeight": "normal", "color": "#000000", "subtitleFont": "Liberation Sans", "subtitleFontSize": 9.4, "subtitleColor": "#000000", "subtitleLineHeight": 16, "subtitlePadding": 6, "offset": 1, "dx": 42, "anchor": "middle", "frame": "group"},
   "encoding": {
    "x": {"field": "sta", "type": "quantitative", "scale": {"domain": [0, 12], "nice": false, "zero": false}, "axis": {"title": "Station (m)", "labelOverlap": false, "values": [0,0.4,0.8,1.2,1.6,2,2.4,2.8,3.2,3.6,4,4.4,4.8,5.2,5.6,6,6.4,6.8,7.2,7.6,8,8.4,8.8,9.2,9.6,10,10.4,10.8,11.2,11.6,12], "labelExpr": "abs(datum.value/2-round(datum.value/2))<0.001 ? format(datum.value,'d') : ''", "tickSize": {"condition": {"test": "abs(datum.value/2-round(datum.value/2))<0.001", "value": 4}, "value": 2.5}}},
    "y": {"field": "elev", "type": "quantitative", "scale": {"domain": [32.0, 35.0], "nice": false, "zero": false}, "axis": {"title": "Elevation (m)", "labelOverlap": false, "values": [32,32.1,32.2,32.3,32.4,32.5,32.6,32.7,32.8,32.9,33,33.1,33.2,33.3,33.4,33.5,33.6,33.7,33.8,33.9,34,34.1,34.2,34.3,34.4,34.5,34.6,34.7,34.8,34.9,35], "labelExpr": "abs(datum.value*2-round(datum.value*2))<0.001 ? format(datum.value,'.1f') : ''", "tickSize": {"condition": {"test": "abs(datum.value*2-round(datum.value*2))<0.001", "value": 4}, "value": 2.5}}}
   },
   "layer": [
    {"data": {"values": [{"sta":0.81,"elev":33.95},{"sta":1.86,"elev":33.79},{"sta":2.63,"elev":33.43},{"sta":2.88,"elev":33.27},{"sta":3.44,"elev":32.85},{"sta":3.92,"elev":32.53},{"sta":4.24,"elev":32.45},{"sta":4.97,"elev":32.35},{"sta":5.86,"elev":32.44},{"sta":6.01,"elev":32.47},{"sta":7.04,"elev":32.97},{"sta":7.47,"elev":33.20},{"sta":8.09,"elev":33.55},{"sta":9.12,"elev":34.18},{"sta":10.17,"elev":34.63},{"sta":11.49,"elev":34.76}]},
     "layer": [
      {"mark": {"type": "line", "color": "#000000", "strokeWidth": 1.5}},
      {"mark": {"type": "point", "shape": "square", "filled": true, "color": "#000000", "size": 16, "opacity": 1}}
     ]},
    {"data": {"values": [{"profile":"WS Max WS - TR200_TP03H","sta":0.81,"elev":34.05},{"profile":"WS Max WS - TR200_TP03H","sta":4.97,"elev":34.05},{"profile":"WS Max WS - TR200_TP03H","sta":8.90,"elev":34.05},{"profile":"WS Max WS - TR030_TP06H","sta":2.02,"elev":33.71},{"profile":"WS Max WS - TR030_TP06H","sta":8.36,"elev":33.71}]},
     "layer": [
      {"mark": {"type": "line", "strokeWidth": 2}, "encoding": {"color": {"field": "profile", "type": "nominal", "scale": {"domain": ["WS Max WS - TR200_TP03H", "WS Max WS - TR030_TP06H"], "range": ["#0000ff", "#3434ff"]}, "legend": null}}},
      {"transform": [{"filter": "datum.profile == 'WS Max WS - TR200_TP03H'"}], "mark": {"type": "point", "shape": "triangle-up", "filled": true, "color": "#0000ff", "size": 22, "opacity": 1}}
     ]},
    {"data": {"values": [{"sta":0.81,"elev":33.95},{"sta":11.49,"elev":34.76}]},
     "layer": [
      {"mark": {"type": "rule", "color": "#000000", "strokeWidth": 1, "y2Offset": -23, "clip": false}, "encoding": {"y": {"datum": 35.0}, "y2": {"datum": 35.0}}},
      {"mark": {"type": "line", "color": "#000000", "strokeWidth": 1, "yOffset": -12, "clip": false}, "encoding": {"y": {"datum": 35.0}}},
      {"mark": {"type": "point", "filled": false, "color": "#000000", "strokeWidth": 1, "size": 30, "opacity": 1, "yOffset": -12, "clip": false}, "encoding": {"y": {"datum": 35.0}, "shape": {"field": "sta", "type": "ordinal", "scale": {"range": ["M0,0L1.3,-0.8M0,0L1.3,0.8", "M0,0L-1.3,-0.8M0,0L-1.3,0.8"]}, "legend": null}}},
      {"transform": [{"aggregate": [{"op": "mean", "field": "sta", "as": "sta"}, {"op": "max", "field": "elev", "as": "elev"}]}], "mark": {"type": "text", "fontSize": 9.6, "color": "#ffffff", "stroke": "#ffffff", "strokeWidth": 5, "baseline": "middle", "align": "center", "yOffset": -12, "clip": false}, "encoding": {"y": {"datum": 35.0}, "text": {"value": ".035"}}},
      {"transform": [{"aggregate": [{"op": "mean", "field": "sta", "as": "sta"}, {"op": "max", "field": "elev", "as": "elev"}]}], "mark": {"type": "text", "fontSize": 9.6, "color": "#000000", "baseline": "middle", "align": "center", "yOffset": -12, "clip": false}, "encoding": {"y": {"datum": 35.0}, "text": {"value": ".035"}}},
      {"mark": {"type": "point", "shape": "circle", "filled": true, "color": "#ff0000", "size": 45, "opacity": 1}}
     ]}
   ]},
  {"width": 136, "height": 113,
   "view": {"stroke": "#3a3a3a", "strokeWidth": 1.5},
   "title": {"text": "Legend", "font": "Liberation Sans", "fontSize": 9.4, "fontWeight": "bold", "color": "#000000", "offset": -13, "anchor": "middle", "frame": "group"},
   "data": {"values": [{"item": "WS Max WS - TR200_TP03H"}, {"item": "WS Max WS - TR030_TP06H"}, {"item": "Ground"}, {"item": "Bank Sta"}]},
   "encoding": {"y": {"field": "item", "type": "nominal", "bandPosition": 0.5, "scale": {"type": "band", "domain": ["WS Max WS - TR200_TP03H", "WS Max WS - TR030_TP06H", "Ground", "Bank Sta"], "paddingInner": 0, "paddingOuter": 0.457, "align": 1}, "axis": null}},
   "layer": [
    {"transform": [{"filter": "datum.item == 'WS Max WS - TR200_TP03H'"}], "mark": {"type": "rule", "color": "#3a3a3a", "strokeWidth": 1.2, "yOffset": -17}},
    {"transform": [{"filter": "datum.item == 'WS Max WS - TR200_TP03H'"}], "mark": {"type": "rule", "color": "#0000ff", "strokeWidth": 2, "yOffset": -10.5}, "encoding": {"x": {"datum": 0.03, "type": "quantitative", "scale": {"domain": [0, 1], "nice": false, "zero": false}, "axis": null}, "x2": {"datum": 0.97}}},
    {"transform": [{"filter": "datum.item == 'WS Max WS - TR030_TP06H'"}], "mark": {"type": "rule", "color": "#3434ff", "strokeWidth": 2, "yOffset": -10.5}, "encoding": {"x": {"datum": 0.03, "type": "quantitative", "scale": {"domain": [0, 1], "nice": false, "zero": false}, "axis": null}, "x2": {"datum": 0.97}}},
    {"transform": [{"filter": "datum.item == 'Ground'"}], "mark": {"type": "rule", "color": "#000000", "strokeWidth": 1.5, "yOffset": -10.5}, "encoding": {"x": {"datum": 0.03, "type": "quantitative", "scale": {"domain": [0, 1], "nice": false, "zero": false}, "axis": null}, "x2": {"datum": 0.97}}},
    {"transform": [{"filter": "datum.item == 'WS Max WS - TR200_TP03H'"}], "mark": {"type": "point", "shape": "triangle-up", "filled": true, "color": "#0000ff", "size": 22, "opacity": 1, "yOffset": -10.5}, "encoding": {"x": {"datum": 0.5, "type": "quantitative", "scale": {"domain": [0, 1], "nice": false, "zero": false}, "axis": null}}},
    {"transform": [{"filter": "datum.item == 'Ground'"}], "mark": {"type": "point", "shape": "square", "filled": true, "color": "#000000", "size": 16, "opacity": 1, "yOffset": -10.5}, "encoding": {"x": {"datum": 0.5, "type": "quantitative", "scale": {"domain": [0, 1], "nice": false, "zero": false}, "axis": null}}},
    {"transform": [{"filter": "datum.item == 'Bank Sta'"}], "mark": {"type": "point", "shape": "circle", "filled": true, "color": "#ff0000", "size": 45, "opacity": 1, "yOffset": -11.2}, "encoding": {"x": {"datum": 0.5, "type": "quantitative", "scale": {"domain": [0, 1], "nice": false, "zero": false}, "axis": null}}},
    {"mark": {"type": "text", "fontSize": 9.6, "color": "#000000", "baseline": "middle", "align": "center", "yOffset": -0.5}, "encoding": {"x": {"datum": 0.5, "type": "quantitative", "scale": {"domain": [0, 1], "nice": false, "zero": false}, "axis": null}, "text": {"field": "item"}}}
   ]}
 ], "spacing": -1}
], "spacing": 91}
]
}
